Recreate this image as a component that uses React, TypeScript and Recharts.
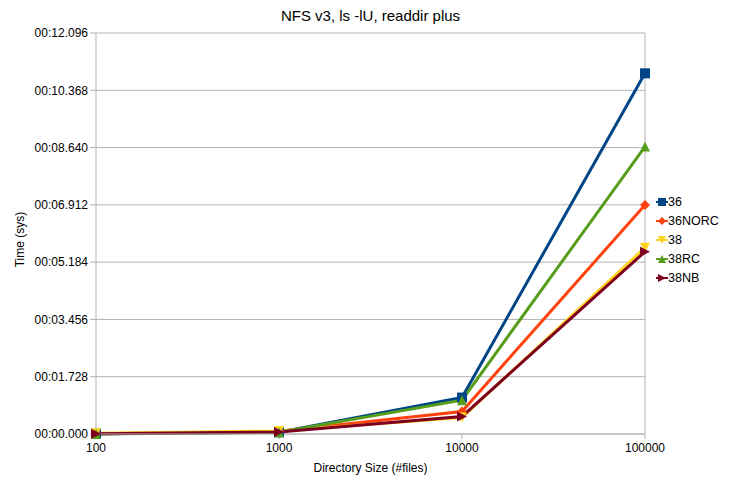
import { LineChart, Line, XAxis, YAxis, CartesianGrid, Legend, ReferenceLine } from 'recharts';

const sizes = ['100', '1000', '10000', '100000'];
const s36 = [0.01, 0.05, 1.1, 10.88];
const s36norc = [0.01, 0.08, 0.68, 6.91];
const s38 = [0.02, 0.09, 0.5, 5.62];
const s38rc = [0.0, 0.05, 1.02, 8.67];
const s38nb = [0.01, 0.06, 0.53, 5.5];
const yTicks = [0, 1.728, 3.456, 5.184, 6.912, 8.64, 10.368, 12.096];

const series = [
  { key: '36', values: s36, color: '#004586', shape: 'square' },
  { key: '36NORC', values: s36norc, color: '#ff420e', shape: 'diamond' },
  { key: '38', values: s38, color: '#ffd320', shape: 'down' },
  { key: '38RC', values: s38rc, color: '#579d1c', shape: 'up' },
  { key: '38NB', values: s38nb, color: '#7e0021', shape: 'right' },
];

const data = sizes.map((size, i) => {
  const row: any = { size };
  series.forEach((s) => (row[s.key] = s.values[i]));
  return row;
});

const FONT = '"Liberation Sans", Arial, sans-serif';

const fmtTime = (v: number) => '00:' + v.toFixed(3).padStart(6, '0');

function Marker({ shape, cx, cy, color, r = 5 }: any) {
  if (cx == null || cy == null) return null;
  switch (shape) {
    case 'square':
      return <rect x={cx - r} y={cy - r} width={r * 2} height={r * 2} fill={color} />;
    case 'diamond':
      return <polygon points={`${cx},${cy - r} ${cx + r},${cy} ${cx},${cy + r} ${cx - r},${cy}`} fill={color} />;
    case 'down':
      return <polygon points={`${cx - r},${cy - r} ${cx + r},${cy - r} ${cx},${cy + r}`} fill={color} />;
    case 'up':
      return <polygon points={`${cx - r},${cy + r} ${cx + r},${cy + r} ${cx},${cy - r}`} fill={color} />;
    default:
      return <polygon points={`${cx - r},${cy - r} ${cx - r},${cy + r} ${cx + r},${cy}`} fill={color} />;
  }
}

const renderLegend = () => (
  <div style={{ fontFamily: FONT, fontSize: 12.5, color: '#000' }}>
    {series.map((s) => (
      <div key={s.key} style={{ display: 'flex', alignItems: 'center', height: 19 }}>
        <svg width={12} height={12} style={{ marginRight: 0 }}>
          <line x1={0} y1={6} x2={12} y2={6} stroke={s.color} strokeWidth={2} />
          <Marker shape={s.shape} cx={6} cy={6} color={s.color} r={4} />
        </svg>
        <span>{s.key}</span>
      </div>
    ))}
  </div>
);

export default function App() {
  return (
    <div style={{ position: 'absolute', left: 0, top: 0, width: 730, height: 479, background: '#fff' }}>
      <div
        style={{
          position: 'absolute',
          left: 96,
          width: 549,
          top: 7,
          textAlign: 'center',
          fontFamily: FONT,
          fontSize: 15,
          color: '#000',
        }}
      >
        NFS v3, ls -lU, readdir plus
      </div>
      <LineChart width={730} height={479} data={data} margin={{ top: 33, right: 85, bottom: 0, left: 0 }}>
        <CartesianGrid horizontal vertical={false} stroke="#b3b3b3" strokeWidth={1} />
        <ReferenceLine x="100000" stroke="#b3b3b3" />
        <XAxis
          dataKey="size"
          height={45}
          padding={{ left: 0, right: 0 }}
          stroke="#b3b3b3"
          tickSize={5}
          tickMargin={4}
          tick={{ fill: '#000', fontFamily: FONT, fontSize: 12 }}
          label={{ value: 'Directory Size (#files)', position: 'insideBottom', offset: 7, fill: '#000', fontFamily: FONT, fontSize: 12 }}
        />
        <YAxis
          width={96}
          domain={[0, 12.096]}
          ticks={yTicks}
          interval={0}
          stroke="#b3b3b3"
          tickSize={6}
          tickMargin={2}
          tickFormatter={fmtTime}
          tick={{ fill: '#000', fontFamily: FONT, fontSize: 12 }}
          label={{
            content: ({ viewBox }: any) => {
              const x = viewBox.x + 20;
              const y = viewBox.y + viewBox.height / 2 + 6;
              return (
                <text x={x} y={y} transform={`rotate(-90 ${x} ${y})`} textAnchor="middle" dominantBaseline="central" fill="#000" fontFamily={FONT} fontSize={12}>
                  Time (sys)
                </text>
              );
            },
          }}
        />
        <Legend
          layout="vertical"
          align="center"
          verticalAlign="middle"
          wrapperStyle={{ left: 656, top: 192, width: 74 }}
          content={renderLegend}
        />
        {series.map((s) => (
          <Line
            key={s.key}
            dataKey={s.key}
            stroke={s.color}
            strokeWidth={3}
            isAnimationActive={false}
            dot={(p: any) => <Marker key={`${s.key}-${p.index}`} shape={s.shape} cx={p.cx} cy={p.cy} color={s.color} r={5} />}
            activeDot={false}
          />
        ))}
      </LineChart>
    </div>
  );
}
